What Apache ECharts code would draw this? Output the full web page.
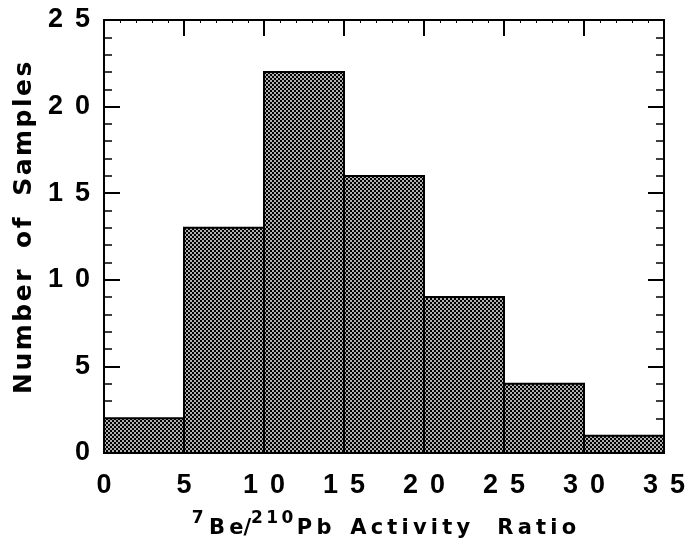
<!DOCTYPE html>
<html><head><meta charset="utf-8">
<script src="https://cdn.jsdelivr.net/npm/echarts@6/dist/echarts.min.js"></script>
<style>html,body{margin:0;padding:0;background:#fff}#c{width:693px;height:544px}</style>
</head><body><div id="c"></div>
<script>
const binStarts = [0, 5, 10, 15, 20, 25, 30];
const binEnds = [5, 10, 15, 20, 25, 30, 35];
const counts = [2, 13, 22, 16, 9, 4, 1];
const xTitleParts = ['7', 'Be', '/', '210', 'Pb', 'Activity', 'Ratio'];
const yTitleWords = ['Number', 'of', 'Samples'];

const pc = document.createElement('canvas');
pc.width = 4; pc.height = 4;
const g = pc.getContext('2d');
g.fillStyle = '#b0b0b0'; g.fillRect(0,0,4,4);
g.fillStyle = '#000'; g.fillRect(0,0,2,2); g.fillRect(2,2,2,2);

const track = (s, sp) => s.split('').join(sp);
const spaced = v => String(v).split('').join(' \u2006');
const font = '"Liberation Sans", Arial, Helvetica, sans-serif';
const wide = '"DejaVu Sans", Verdana, sans-serif';
const data = binStarts.map((s,i)=>[s, binEnds[i], counts[i]]);

const TH = '\u2009', T4 = '\u2005', T6 = '\u2006', HS = '\u200A';
const xName =
  '{sup|' + xTitleParts[0] + '}{n|' + T4 + track(xTitleParts[1], TH) + xTitleParts[2] + '}' +
  '{sup|' + track(xTitleParts[3], TH) + '}' +
  '{n|' + T6 + track(xTitleParts[4], TH) + '  ' + TH + track(xTitleParts[5], TH) + '   ' + T4 + track(xTitleParts[6], TH) + '}';
const yName = '  ' + yTitleWords.map(w => track(w, HS)).join('  ' + T6);

const chart = echarts.init(document.getElementById('c'), null, {renderer:'canvas'});
const xBase = {type:'value', min:0, max:35, interval:5,
  axisLine:{show:true, onZero:false, lineStyle:{color:'#000', width:2}},
  splitLine:{show:false},
  minorTick:{show:true, splitNumber:5, length:3, lineStyle:{color:'#000', width:1}},
  axisTick:{show:true, inside:true, length:16, lineStyle:{color:'#000', width:2}}};
const yBase = {type:'value', min:0, max:25, interval:5,
  axisLine:{show:true, onZero:false, lineStyle:{color:'#000', width:2}},
  splitLine:{show:false},
  minorTick:{show:true, splitNumber:5, length:8, lineStyle:{color:'#000', width:1.5}},
  axisTick:{show:true, inside:true, length:16, lineStyle:{color:'#000', width:2}}};
const lab = {color:'#000', fontSize:27, fontWeight:'bold', fontFamily:font};
chart.setOption({
  animation:false,
  grid:{left:104, right:29, top:20, bottom:88},
  xAxis:[
    Object.assign({}, xBase, {position:'bottom',
      axisLabel:Object.assign({formatter:spaced, margin:19}, lab),
      name:xName,
      nameLocation:'middle', nameGap:57,
      nameTextStyle:{rich:{
        n:{fontSize:21, fontWeight:'bold', fontFamily:wide, color:'#000', verticalAlign:'bottom'},
        sup:{fontSize:17, fontWeight:'bold', fontFamily:wide, color:'#000', verticalAlign:'bottom', padding:[0,0,12,0]}
      }}}),
    Object.assign({}, xBase, {position:'top', axisLabel:{show:false}})
  ],
  yAxis:[
    Object.assign({}, yBase, {position:'left',
      axisLabel:Object.assign({formatter:spaced, margin:14}, lab),
      name:yName, nameLocation:'middle', nameGap:62, nameRotate:90,
      nameTextStyle:{fontSize:25, fontWeight:'bold', fontFamily:wide, color:'#000'}}),
    Object.assign({}, yBase, {position:'right', axisLabel:{show:false}})
  ],
  series:[{
    type:'custom',
    xAxisIndex:0, yAxisIndex:0,
    data:data,
    encode:{x:[0,1], y:2},
    renderItem:function(params, api){
      const p0 = api.coord([api.value(0), 0]);
      const p1 = api.coord([api.value(1), api.value(2)]);
      return {type:'rect',
        shape:{x:p0[0], y:p1[1], width:p1[0]-p0[0], height:p0[1]-p1[1]},
        style:{fill:{image:pc, repeat:'repeat'}, stroke:'#000', lineWidth:2}};
    }
  }]
});
</script></body></html>
